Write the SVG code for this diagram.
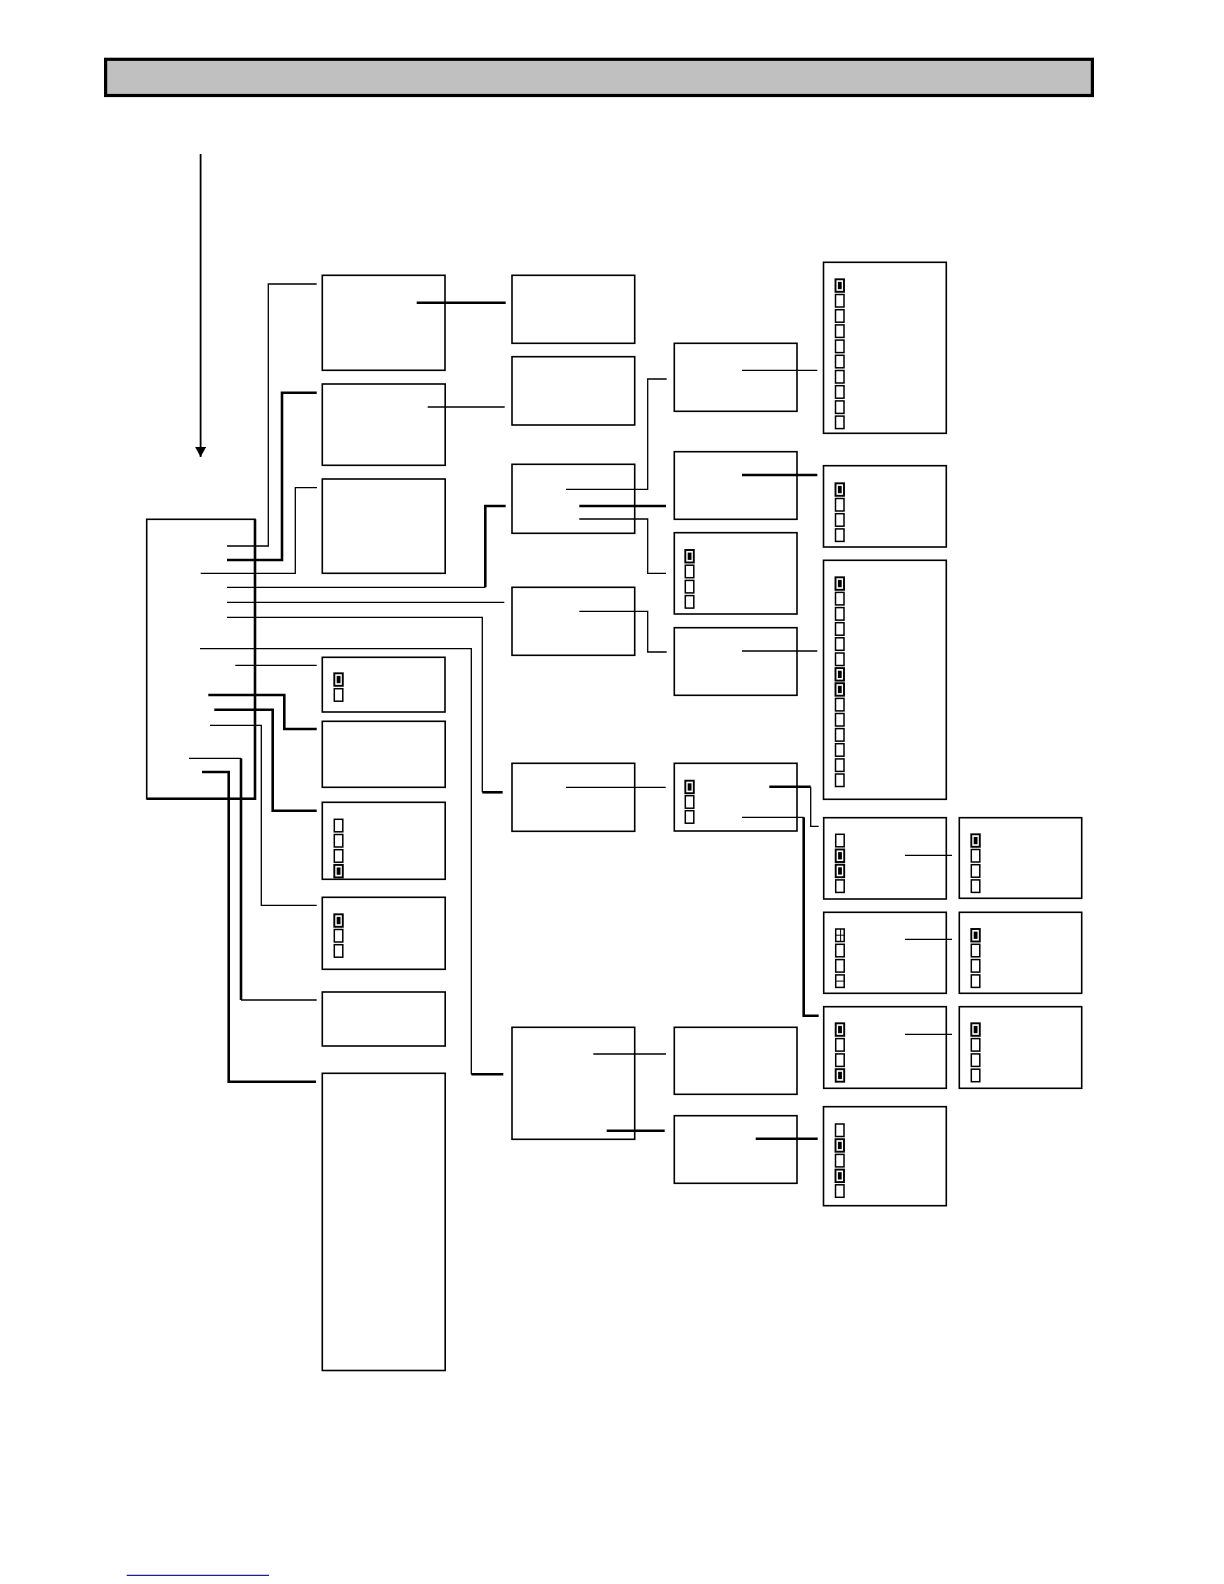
<svg xmlns="http://www.w3.org/2000/svg" xmlns:xlink="http://www.w3.org/1999/xlink" width="1224" height="1584" viewBox="0 0 1224 1584">
<style>
.box{fill:#fff;stroke:#000;stroke-width:1.6}
.thin{fill:none;stroke:#000;stroke-width:1.3}
.thick{fill:none;stroke:#000;stroke-width:2.6}
.cbo{fill:#fff;stroke:#000;stroke-width:1.5}
.cbf{fill:#fff;stroke:#000;stroke-width:1.9}
</style>
<defs>
<marker id="ah" markerWidth="11" markerHeight="11" refX="10" refY="5.5" orient="auto" markerUnits="userSpaceOnUse" viewBox="0 0 11 11">
<path d="M0,0 L10,5.5 L0,11 Z" fill="#000"/>
</marker>
<g id="cb"><rect class="cbo" x="0" y="0" width="8.5" height="12.5"/></g>
<g id="cbF"><rect class="cbf" x="0" y="0" width="8.5" height="12.5"/><rect x="2.4" y="2.6" width="3.8" height="7.3" fill="#000"/></g>
<g id="cbP"><rect class="cbo" x="0" y="0" width="8.5" height="12.5"/><path d="M4.9,0 V12.5 M0,6.2 H8.5" stroke="#000" stroke-width="1" fill="none"/></g>
<g id="cbM"><rect class="cbo" x="0" y="0" width="8.5" height="12.5"/><path d="M0,6.2 H8.5" stroke="#000" stroke-width="1" fill="none"/></g>
</defs>
<rect width="1224" height="1584" fill="#fff"/>

<g id="title">
<rect x="105.6" y="59.3" width="986.8" height="36.2" fill="#c0c0c0" stroke="#000" stroke-width="3.2"/>
</g>

<g id="main">
<rect class="box" x="146.7" y="519.3" width="108.3" height="279.4"/>
<path class="thick" d="M255,519.3 V798.7 H146.7"/>
</g>

<g id="nodes-col1">
<g id="A"><rect class="box" x="322.3" y="275.3" width="122.7" height="95"/></g>
<g id="B"><rect class="box" x="322.3" y="384" width="122.9" height="81.3"/></g>
<g id="C"><rect class="box" x="322.3" y="479" width="122.9" height="94.3"/></g>
<g id="F"><rect class="box" x="322.3" y="657.3" width="122.7" height="54.7"/>
<use href="#cbF" x="334.3" y="673.3"/><use href="#cb" x="334.3" y="688.7"/></g>
<g id="G"><rect class="box" x="322.3" y="721.3" width="122.9" height="66"/></g>
<g id="H"><rect class="box" x="322.3" y="802.3" width="122.9" height="77"/>
<use href="#cb" x="334.3" y="819.3"/><use href="#cb" x="334.3" y="834.5"/><use href="#cb" x="334.3" y="849.7"/><use href="#cbF" x="334.3" y="864.9"/></g>
<g id="I"><rect class="box" x="322.3" y="897.3" width="122.9" height="72"/>
<use href="#cbF" x="334.3" y="914.3"/><use href="#cb" x="334.3" y="929.5"/><use href="#cb" x="334.3" y="944.7"/></g>
<g id="J"><rect class="box" x="322.3" y="992" width="122.9" height="54"/></g>
<g id="K"><rect class="box" x="322.3" y="1073.3" width="122.9" height="297.2"/></g>
</g>

<g id="nodes-col2">
<g id="L"><rect class="box" x="512" y="275.3" width="122.7" height="68"/></g>
<g id="M"><rect class="box" x="512" y="356.7" width="122.7" height="68.3"/></g>
<g id="N"><rect class="box" x="512" y="464.3" width="122.7" height="69"/></g>
<g id="D"><rect class="box" x="512" y="587.3" width="122.7" height="68"/></g>
<g id="E"><rect class="box" x="512" y="763.3" width="122.7" height="68"/></g>
<g id="Z"><rect class="box" x="512" y="1027.3" width="122.7" height="112"/></g>
</g>

<g id="nodes-col3">
<g id="O"><rect class="box" x="674.3" y="343.3" width="122.7" height="68"/></g>
<g id="Q"><rect class="box" x="674.3" y="451.7" width="122.7" height="67.6"/></g>
<g id="S"><rect class="box" x="674.3" y="532.7" width="122.7" height="81.3"/>
<use href="#cbF" x="685.3" y="550"/><use href="#cb" x="685.3" y="565.2"/><use href="#cb" x="685.3" y="580.4"/><use href="#cb" x="685.3" y="595.6"/></g>
<g id="U"><rect class="box" x="674.3" y="627.7" width="122.7" height="67.6"/></g>
<g id="V"><rect class="box" x="674.3" y="763.3" width="122.7" height="67.7"/>
<use href="#cbF" x="685.3" y="780.7"/><use href="#cb" x="685.3" y="795.7"/><use href="#cb" x="685.3" y="810.7"/></g>
<g id="W"><rect class="box" x="674.3" y="1027.3" width="122.7" height="67"/></g>
<g id="AA"><rect class="box" x="674.3" y="1115.7" width="122.7" height="67.6"/></g>
</g>

<g id="nodes-col4">
<g id="P"><rect class="box" x="823.5" y="262.3" width="122.8" height="171"/>
<use href="#cbF" x="835.5" y="279.3"/><use href="#cb" x="835.5" y="294.5"/><use href="#cb" x="835.5" y="309.7"/><use href="#cb" x="835.5" y="324.9"/><use href="#cb" x="835.5" y="340.1"/><use href="#cb" x="835.5" y="355.3"/><use href="#cb" x="835.5" y="370.5"/><use href="#cb" x="835.5" y="385.7"/><use href="#cb" x="835.5" y="400.9"/><use href="#cb" x="835.5" y="416.1"/></g>
<g id="R"><rect class="box" x="823.5" y="465.7" width="122.8" height="81.3"/>
<use href="#cbF" x="835.5" y="483.3"/><use href="#cb" x="835.5" y="498.5"/><use href="#cb" x="835.5" y="513.7"/><use href="#cb" x="835.5" y="528.9"/></g>
<g id="T"><rect class="box" x="823.5" y="560.3" width="122.8" height="239"/>
<use href="#cbF" x="835.5" y="577.3"/><use href="#cb" x="835.5" y="592.4"/><use href="#cb" x="835.5" y="607.6"/><use href="#cb" x="835.5" y="622.7"/><use href="#cb" x="835.5" y="637.8"/><use href="#cb" x="835.5" y="653"/><use href="#cbF" x="835.5" y="668.1"/><use href="#cbF" x="835.5" y="683.2"/><use href="#cb" x="835.5" y="698.4"/><use href="#cb" x="835.5" y="713.5"/><use href="#cb" x="835.5" y="728.6"/><use href="#cb" x="835.5" y="743.7"/><use href="#cb" x="835.5" y="758.9"/><use href="#cb" x="835.5" y="774"/></g>
<g id="X1"><rect class="box" x="823.7" y="817.7" width="122.6" height="81.3"/>
<use href="#cb" x="835.7" y="834.3"/><use href="#cbF" x="835.7" y="849.5"/><use href="#cbF" x="835.7" y="864.7"/><use href="#cb" x="835.7" y="879.9"/></g>
<g id="X2"><rect class="box" x="823.7" y="912.3" width="122.6" height="81"/>
<use href="#cbP" x="835.7" y="929"/><use href="#cb" x="835.7" y="944.3"/><use href="#cb" x="835.7" y="959.6"/><use href="#cbM" x="835.7" y="974.9"/></g>
<g id="X3"><rect class="box" x="823.7" y="1006.7" width="122.6" height="81.6"/>
<use href="#cbF" x="835.7" y="1023.3"/><use href="#cb" x="835.7" y="1038.6"/><use href="#cb" x="835.7" y="1053.9"/><use href="#cbF" x="835.7" y="1069.2"/></g>
<g id="BB"><rect class="box" x="823.5" y="1106.7" width="122.8" height="99"/>
<use href="#cb" x="835.5" y="1124"/><use href="#cbF" x="835.5" y="1139.2"/><use href="#cb" x="835.5" y="1154.4"/><use href="#cbF" x="835.5" y="1169.6"/><use href="#cb" x="835.5" y="1184.8"/></g>
</g>

<g id="nodes-col5">
<g id="Y1"><rect class="box" x="959.3" y="817.7" width="122.4" height="80.6"/>
<use href="#cbF" x="971.3" y="834.3"/><use href="#cb" x="971.3" y="849.5"/><use href="#cb" x="971.3" y="864.7"/><use href="#cb" x="971.3" y="879.9"/></g>
<g id="Y2"><rect class="box" x="959.3" y="912.3" width="122.4" height="81"/>
<use href="#cbF" x="971.3" y="929"/><use href="#cb" x="971.3" y="944.3"/><use href="#cb" x="971.3" y="959.6"/><use href="#cb" x="971.3" y="974.9"/></g>
<g id="Y3"><rect class="box" x="959.3" y="1006.7" width="122.4" height="81.6"/>
<use href="#cbF" x="971.3" y="1023.3"/><use href="#cb" x="971.3" y="1038.6"/><use href="#cb" x="971.3" y="1053.9"/><use href="#cb" x="971.3" y="1069.2"/></g>
</g>

<g id="connectors">
<line x1="200.6" y1="154" x2="200.6" y2="457" stroke="#000" stroke-width="1.8" marker-end="url(#ah)"/>
<path class="thin" d="M227,546 H268.3 V284 H316.7"/>
<path class="thick" d="M227,560 H282 V392.7 H316.7"/>
<path class="thin" d="M200.7,573.3 H295.3 V487.7 H317"/>
<path class="thin" d="M227,587.3 H485.3"/>
<path class="thick" d="M485.3,587.3 V506 H505.7"/>
<path class="thin" d="M227,602.3 H504.3"/>
<path class="thin" d="M227,617.3 H482.3 V792.3"/>
<path class="thick" d="M482.3,792.3 H502.7"/>
<path class="thin" d="M200,648.7 H471.3 V1074.3"/>
<path class="thick" d="M471.3,1074.3 H503.3"/>
<path class="thin" d="M235.3,665.3 H316.7"/>
<path class="thick" d="M208.3,695 H284.3 V729 H316.7"/>
<path class="thick" d="M214.3,709.7 H272.7 V810.7 H316.7"/>
<path class="thin" d="M210,725.3 H261.3 V905.3 H316.7"/>
<path class="thin" d="M189,758.3 H241"/>
<path class="thick" d="M241,758.3 V1000"/>
<path class="thin" d="M241,1000 H316.7"/>
<path class="thick" d="M202,772 H228.7 V1081.7 H316"/>
<path class="thick" d="M416.7,302.7 H505.7"/>
<path class="thin" d="M427.7,407 H504.7"/>
<path class="thin" d="M566,489.3 H647.7 V379 H666.7"/>
<path class="thick" d="M579.3,506 H666"/>
<path class="thin" d="M579.3,519 H647.7 V573.3 H666"/>
<path class="thin" d="M579.3,611.3 H647.7 V652 H666.7"/>
<path class="thin" d="M566,787.3 H665.7"/>
<path class="thin" d="M742,370.3 H817.3"/>
<path class="thick" d="M742,475 H817.3"/>
<path class="thin" d="M742,651 H817.3"/>
<path class="thick" d="M769.3,786.7 H810.7"/>
<path class="thin" d="M810.7,786.7 V826.3 H818.7"/>
<path class="thin" d="M742,817.3 H803.7"/>
<path class="thick" d="M803.7,817.3 V1015.7 H818.7"/>
<path class="thin" d="M905,855.3 H952"/>
<path class="thin" d="M905,939.3 H952"/>
<path class="thin" d="M905,1034.3 H952"/>
<path class="thin" d="M593.3,1054 H666"/>
<path class="thick" d="M606.7,1130.7 H664.7"/>
<path class="thick" d="M755.7,1138.7 H817.7"/>
</g>

<line x1="126.7" y1="1575.3" x2="269" y2="1575.3" stroke="#1f1f8f" stroke-width="1.2"/>
</svg>
